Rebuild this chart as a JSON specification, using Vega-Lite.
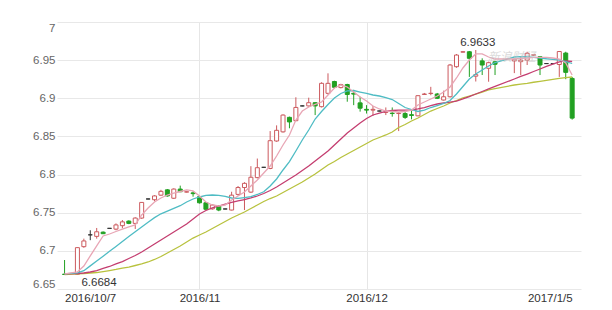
{
 "$schema": "https://vega.github.io/schema/vega-lite/v6.json",
 "width": 524, "height": 267,
 "autosize": "none",
 "padding": {"left": 57, "top": 22, "right": 31, "bottom": 21},
 "background": "white",
 "config": {"view": {"stroke": null}, "font": "Liberation Sans",
  "axisY": {"tickCount": 8, "format": "~g", "labelFlush": true, "labelOverlap": false, "domain": false, "ticks": false,
   "gridColor": "#e8e8e8", "labelColor": "#666666", "labelFontSize": 11.5, "labelPadding": 2, "title": null}},
 "datasets": {
  "k": [
   {"i":0,"o":6.6695,"h":6.688,"l":6.669,"c":6.669,"m5":6.6697,"m10":6.6697,"m20":6.6697,"m30":6.6690},
   {"i":2,"o":6.6693,"h":6.7045,"l":6.6684,"c":6.7042,"m5":6.6723,"m10":6.6710,"m20":6.6703,"m30":6.6697},
   {"i":3,"o":6.7055,"h":6.716,"l":6.704,"c":6.713,"m5":6.6801,"m10":6.6740,"m20":6.6710,"m30":6.6703},
   {"i":4,"o":6.721,"h":6.727,"l":6.714,"c":6.721,"m5":6.6933,"m10":6.6803,"m20":6.6723,"m30":6.6710},
   {"i":5,"o":6.719,"h":6.730,"l":6.716,"c":6.725,"m5":6.7064,"m10":6.6867,"m20":6.6742,"m30":6.6716},
   {"i":6,"o":6.7245,"h":6.7255,"l":6.722,"c":6.7225,"m5":6.7195,"m10":6.6930,"m20":6.6769,"m30":6.6729},
   {"i":7,"o":6.7295,"h":6.7298,"l":6.7292,"c":6.7295,"m5":6.7221,"m10":6.6994,"m20":6.6795,"m30":6.6742},
   {"i":8,"o":6.7285,"h":6.736,"l":6.727,"c":6.734,"m5":6.7254,"m10":6.7058,"m20":6.6828,"m30":6.6756},
   {"i":9,"o":6.733,"h":6.7404,"l":6.7296,"c":6.738,"m5":6.7286,"m10":6.7123,"m20":6.6860,"m30":6.6775},
   {"i":10,"o":6.739,"h":6.740,"l":6.735,"c":6.736,"m5":6.7313,"m10":6.7187,"m20":6.6900,"m30":6.6788},
   {"i":11,"o":6.736,"h":6.744,"l":6.7287,"c":6.743,"m5":6.7339,"m10":6.7251,"m20":6.6939,"m30":6.6808},
   {"i":12,"o":6.743,"h":6.764,"l":6.742,"c":6.7635,"m5":6.7470,"m10":6.7313,"m20":6.6985,"m30":6.6828},
   {"i":13,"o":6.768,"h":6.7685,"l":6.7675,"c":6.768,"m5":6.7562,"m10":6.7376,"m20":6.7037,"m30":6.6854},
   {"i":14,"o":6.767,"h":6.773,"l":6.765,"c":6.772,"m5":6.7640,"m10":6.7436,"m20":6.7090,"m30":6.6887},
   {"i":15,"o":6.773,"h":6.780,"l":6.772,"c":6.778,"m5":6.7693,"m10":6.7486,"m20":6.7142,"m30":6.6926},
   {"i":16,"o":6.780,"h":6.781,"l":6.771,"c":6.772,"m5":6.7732,"m10":6.7522,"m20":6.7195,"m30":6.6972},
   {"i":17,"o":6.769,"h":6.782,"l":6.768,"c":6.781,"m5":6.7758,"m10":6.7558,"m20":6.7247,"m30":6.7018},
   {"i":18,"o":6.781,"h":6.7855,"l":6.777,"c":6.7775,"m5":6.7778,"m10":6.7592,"m20":6.7300,"m30":6.7064},
   {"i":19,"o":6.777,"h":6.778,"l":6.7765,"c":6.7775,"m5":6.7798,"m10":6.7640,"m20":6.7352,"m30":6.7116},
   {"i":20,"o":6.776,"h":6.778,"l":6.771,"c":6.775,"m5":6.7785,"m10":6.7680,"m20":6.7418,"m30":6.7168},
   {"i":21,"o":6.771,"h":6.772,"l":6.762,"c":6.763,"m5":6.7719,"m10":6.7706,"m20":6.7483,"m30":6.7208},
   {"i":22,"o":6.763,"h":6.764,"l":6.754,"c":6.7545,"m5":6.7640,"m10":6.7726,"m20":6.7529,"m30":6.7247},
   {"i":23,"o":6.755,"h":6.761,"l":6.754,"c":6.760,"m5":6.7601,"m10":6.7732,"m20":6.7562,"m30":6.7293},
   {"i":24,"o":6.759,"h":6.760,"l":6.752,"c":6.7535,"m5":6.7588,"m10":6.7726,"m20":6.7588,"m30":6.7339},
   {"i":25,"o":6.7549,"h":6.7552,"l":6.7546,"c":6.7549,"m5":6.7601,"m10":6.7713,"m20":6.7614,"m30":6.7385},
   {"i":26,"o":6.7535,"h":6.7775,"l":6.753,"c":6.773,"m5":6.7667,"m10":6.7693,"m20":6.7634,"m30":6.7431},
   {"i":27,"o":6.774,"h":6.785,"l":6.7725,"c":6.783,"m5":6.7719,"m10":6.7689,"m20":6.7654,"m30":6.7470},
   {"i":28,"o":6.783,"h":6.790,"l":6.7535,"c":6.7885,"m5":6.7772,"m10":6.7699,"m20":6.7673,"m30":6.7509},
   {"i":29,"o":6.777,"h":6.811,"l":6.776,"c":6.7965,"m5":6.7850,"m10":6.7710,"m20":6.7693,"m30":6.7555},
   {"i":30,"o":6.796,"h":6.821,"l":6.795,"c":6.809,"m5":6.7929,"m10":6.7739,"m20":6.7719,"m30":6.7601},
   {"i":31,"o":6.8095,"h":6.810,"l":6.809,"c":6.8095,"m5":6.8021,"m10":6.7775,"m20":6.7752,"m30":6.7647},
   {"i":32,"o":6.808,"h":6.857,"l":6.807,"c":6.8444,"m5":6.8112,"m10":6.7850,"m20":6.7791,"m30":6.7686},
   {"i":33,"o":6.844,"h":6.8645,"l":6.843,"c":6.858,"m5":6.8243,"m10":6.7942,"m20":6.7837,"m30":6.7719},
   {"i":34,"o":6.856,"h":6.879,"l":6.855,"c":6.878,"m5":6.8388,"m10":6.8060,"m20":6.7889,"m30":6.7765},
   {"i":35,"o":6.875,"h":6.876,"l":6.8607,"c":6.869,"m5":6.8519,"m10":6.8171,"m20":6.7942,"m30":6.7811},
   {"i":36,"o":6.8706,"h":6.9013,"l":6.870,"c":6.888,"m5":6.8715,"m10":6.8309,"m20":6.7994,"m30":6.7857},
   {"i":37,"o":6.890,"h":6.8905,"l":6.8895,"c":6.890,"m5":6.8833,"m10":6.8453,"m20":6.8053,"m30":6.7903},
   {"i":38,"o":6.890,"h":6.9008,"l":6.889,"c":6.8942,"m5":6.8886,"m10":6.8584,"m20":6.8112,"m30":6.7955},
   {"i":39,"o":6.8942,"h":6.895,"l":6.878,"c":6.890,"m5":6.8919,"m10":6.8728,"m20":6.8178,"m30":6.8007},
   {"i":40,"o":6.889,"h":6.921,"l":6.888,"c":6.9196,"m5":6.8951,"m10":6.8827,"m20":6.8243,"m30":6.8066},
   {"i":41,"o":6.9065,"h":6.9327,"l":6.905,"c":6.9196,"m5":6.9043,"m10":6.8919,"m20":6.8309,"m30":6.8125},
   {"i":42,"o":6.922,"h":6.923,"l":6.913,"c":6.9144,"m5":6.9135,"m10":6.9004,"m20":6.8388,"m30":6.8171},
   {"i":43,"o":6.914,"h":6.919,"l":6.913,"c":6.918,"m5":6.9174,"m10":6.9063,"m20":6.8466,"m30":6.8224},
   {"i":44,"o":6.918,"h":6.919,"l":6.8955,"c":6.905,"m5":6.9148,"m10":6.9096,"m20":6.8545,"m30":6.8270},
   {"i":45,"o":6.9065,"h":6.911,"l":6.891,"c":6.9055,"m5":6.9082,"m10":6.9102,"m20":6.8610,"m30":6.8316},
   {"i":46,"o":6.894,"h":6.902,"l":6.8825,"c":6.887,"m5":6.9017,"m10":6.9082,"m20":6.8676,"m30":6.8361},
   {"i":47,"o":6.8855,"h":6.891,"l":6.880,"c":6.8845,"m5":6.8964,"m10":6.9063,"m20":6.8735,"m30":6.8407},
   {"i":48,"o":6.8845,"h":6.890,"l":6.8768,"c":6.8855,"m5":6.8899,"m10":6.9043,"m20":6.8781,"m30":6.8453},
   {"i":49,"o":6.8833,"h":6.8836,"l":6.883,"c":6.8833,"m5":6.8860,"m10":6.9030,"m20":6.8807,"m30":6.8486},
   {"i":50,"o":6.8815,"h":6.888,"l":6.878,"c":6.882,"m5":6.8833,"m10":6.9010,"m20":6.8827,"m30":6.8519},
   {"i":51,"o":6.8805,"h":6.888,"l":6.8759,"c":6.880,"m5":6.8827,"m10":6.8984,"m20":6.8840,"m30":6.8558},
   {"i":52,"o":6.880,"h":6.882,"l":6.857,"c":6.8805,"m5":6.8820,"m10":6.8932,"m20":6.8846,"m30":6.8617},
   {"i":53,"o":6.880,"h":6.882,"l":6.873,"c":6.875,"m5":6.8827,"m10":6.8879,"m20":6.8846,"m30":6.8656},
   {"i":54,"o":6.8785,"h":6.8846,"l":6.8724,"c":6.8775,"m5":6.8846,"m10":6.8853,"m20":6.8846,"m30":6.8702},
   {"i":55,"o":6.877,"h":6.904,"l":6.8765,"c":6.9034,"m5":6.8912,"m10":6.8827,"m20":6.8860,"m30":6.8742},
   {"i":56,"o":6.905,"h":6.907,"l":6.9045,"c":6.9056,"m5":6.8951,"m10":6.8846,"m20":6.8879,"m30":6.8787},
   {"i":57,"o":6.9062,"h":6.915,"l":6.904,"c":6.9066,"m5":6.8991,"m10":6.8879,"m20":6.8905,"m30":6.8833},
   {"i":58,"o":6.9056,"h":6.907,"l":6.899,"c":6.900,"m5":6.9030,"m10":6.8905,"m20":6.8925,"m30":6.8866},
   {"i":59,"o":6.8977,"h":6.910,"l":6.897,"c":6.902,"m5":6.9082,"m10":6.8932,"m20":6.8938,"m30":6.8899},
   {"i":60,"o":6.902,"h":6.945,"l":6.901,"c":6.9436,"m5":6.9148,"m10":6.8971,"m20":6.8951,"m30":6.8938},
   {"i":61,"o":6.9414,"h":6.958,"l":6.940,"c":6.9567,"m5":6.9266,"m10":6.9056,"m20":6.8964,"m30":6.8971},
   {"i":62,"o":6.9605,"h":6.962,"l":6.960,"c":6.961,"m5":6.9397,"m10":6.9155,"m20":6.8991,"m30":6.9004},
   {"i":63,"o":6.961,"h":6.962,"l":6.928,"c":6.9524,"m5":6.9502,"m10":6.9253,"m20":6.9023,"m30":6.9030},
   {"i":64,"o":6.929,"h":6.9633,"l":6.922,"c":6.931,"m5":6.9581,"m10":6.9318,"m20":6.9056,"m30":6.9056},
   {"i":65,"o":6.949,"h":6.9524,"l":6.9305,"c":6.9436,"m5":6.9581,"m10":6.9371,"m20":6.9089,"m30":6.9082},
   {"i":66,"o":6.9393,"h":6.948,"l":6.9217,"c":6.9467,"m5":6.9541,"m10":6.9423,"m20":6.9122,"m30":6.9109},
   {"i":67,"o":6.948,"h":6.949,"l":6.9305,"c":6.9446,"m5":6.9515,"m10":6.9469,"m20":6.9155,"m30":6.9128},
   {"i":70,"o":6.949,"h":6.952,"l":6.933,"c":6.951,"m5":6.9515,"m10":6.9541,"m20":6.9253,"m30":6.9174},
   {"i":71,"o":6.948,"h":6.9545,"l":6.9305,"c":6.950,"m5":6.9522,"m10":6.9545,"m20":6.9286,"m30":6.9187},
   {"i":72,"o":6.950,"h":6.961,"l":6.9436,"c":6.959,"m5":6.9528,"m10":6.9544,"m20":6.9318,"m30":6.9196},
   {"i":73,"o":6.9565,"h":6.958,"l":6.956,"c":6.957,"m5":6.9535,"m10":6.9537,"m20":6.9351,"m30":6.9210},
   {"i":74,"o":6.9545,"h":6.955,"l":6.9305,"c":6.9436,"m5":6.9537,"m10":6.9528,"m20":6.9384,"m30":6.9223},
   {"i":75,"o":6.9455,"h":6.9458,"l":6.9452,"c":6.9455,"m5":6.9535,"m10":6.9518,"m20":6.9417,"m30":6.9236},
   {"i":76,"o":6.9455,"h":6.9458,"l":6.9452,"c":6.9455,"m5":6.9528,"m10":6.9510,"m20":6.9449,"m30":6.9249},
   {"i":77,"o":6.9443,"h":6.962,"l":6.928,"c":6.9613,"m5":6.9515,"m10":6.9502,"m20":6.9476,"m30":6.9262},
   {"i":78,"o":6.9593,"h":6.961,"l":6.925,"c":6.934,"m5":6.9463,"m10":6.9482,"m20":6.9489,"m30":6.9272},
   {"i":79,"o":6.926,"h":6.928,"l":6.872,"c":6.874,"m5":6.9305,"m10":6.9456,"m20":6.9482,"m30":6.9279}
  ]
 },
 "data": {"name": "k"},
 "encoding": {
  "x": {"field": "i", "type": "quantitative", "title": null,
   "scale": {"domain": [-0.4, 79.6], "nice": false, "zero": false},
   "axis": {"values": [0, 21, 47, 79],
    "labelExpr": "datum.value == 0 ? '2016/10/7' : datum.value == 21 ? '2016/11' : datum.value == 47 ? '2016/12' : '2017/1/5'",
    "domain": false, "ticks": false, "labelFontSize": 11.5, "labelColor": "#333333", "labelPadding": 3,
    "labelFlush": false, "labelOverlap": false, "gridColor": "#e6e6e6",
    "gridOpacity": {"condition": {"test": "datum.value == 21 || datum.value == 47", "value": 1}, "value": 0},
    "labelAlign": {"condition": [{"test": "datum.value == 0", "value": "left"}, {"test": "datum.value == 79", "value": "right"}], "value": "center"}}}
 },
 "layer": [
  {"mark": {"type": "rule", "strokeWidth": 1},
   "encoding": {
    "y": {"field": "l", "type": "quantitative", "title": null,
     "scale": {"domain": [6.65, 7], "nice": false, "zero": false}},
    "y2": {"field": "h"},
    "stroke": {"condition": [{"test": "datum.c > datum.o", "value": "#cc5a5e"}, {"test": "datum.c < datum.o", "value": "#22a022"}], "value": "#333333"}
   }},
  {"mark": {"type": "bar", "size": 4, "strokeWidth": 1},
   "encoding": {
    "y": {"field": "o", "type": "quantitative", "title": null},
    "y2": {"field": "c"},
    "fill": {"condition": {"test": "datum.c < datum.o", "value": "#22a022"}, "value": "#ffffff"},
    "stroke": {"condition": [{"test": "datum.c > datum.o", "value": "#cc5a5e"}, {"test": "datum.c < datum.o", "value": "#22a022"}], "value": "#333333"}
   }},
  {"mark": {"type": "line", "strokeWidth": 1.3, "color": "#b8c23e"},
   "encoding": {"y": {"field": "m30", "type": "quantitative", "title": null}}},
  {"mark": {"type": "line", "strokeWidth": 1.3, "color": "#c43e70"},
   "encoding": {"y": {"field": "m20", "type": "quantitative", "title": null}}},
  {"mark": {"type": "line", "strokeWidth": 1.3, "color": "#4fbcc4"},
   "encoding": {"y": {"field": "m10", "type": "quantitative", "title": null}}},
  {"mark": {"type": "line", "strokeWidth": 1.3, "color": "#e8a6b5"},
   "encoding": {"y": {"field": "m5", "type": "quantitative", "title": null}}},
  {"data": {"values": [{"i": 69.6, "v": 6.9535, "t": "新浪财经"}]},
   "mark": {"type": "text", "font": "Noto Sans CJK SC", "fontSize": 12, "fontStyle": "italic", "color": "#c4c4c4", "opacity": 0.6, "align": "center", "baseline": "middle"},
   "encoding": {"y": {"field": "v", "type": "quantitative", "title": null}, "text": {"field": "t"}}},
  {"data": {"values": [{"i": 64, "v": 6.9633, "t": "6.9633"}]},
   "mark": {"type": "text", "fontSize": 11.5, "color": "#333333", "align": "center", "baseline": "bottom", "dx": 2, "dy": -2},
   "encoding": {"y": {"field": "v", "type": "quantitative", "title": null}, "text": {"field": "t"}}},
  {"data": {"values": [{"i": 2, "v": 6.6684, "t": "6.6684"}]},
   "mark": {"type": "text", "fontSize": 11.5, "color": "#333333", "align": "left", "baseline": "top", "dx": 4, "dy": 2},
   "encoding": {"y": {"field": "v", "type": "quantitative", "title": null}, "text": {"field": "t"}}}
 ]
}
